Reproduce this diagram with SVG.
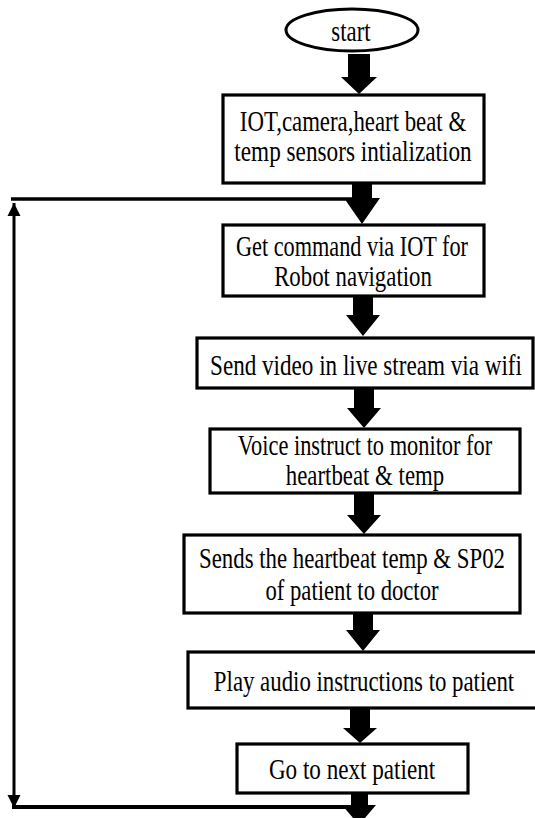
<svg xmlns="http://www.w3.org/2000/svg" width="535" height="818" viewBox="0 0 535 818">
  <defs>
    <style>
      .box { fill: #ffffff; stroke: #000000; stroke-width: 3.2; }
      .term { fill: #ffffff; stroke: #000000; stroke-width: 3; }
      .t { font-family: "Liberation Serif", "Times New Roman", serif; font-size: 29px; fill: #000000; text-anchor: middle; }
      .blk { fill: #000000; }
      .line { fill: none; stroke: #000000; }
    </style>
    <marker id="ah" viewBox="0 0 10 10" refX="10" refY="5" markerUnits="userSpaceOnUse" markerWidth="13" markerHeight="14" orient="auto-start-reverse">
      <path d="M0,0 L10,5 L0,10 z" fill="#000000"/>
    </marker>
  </defs>
  <rect width="535" height="818" fill="#ffffff"/>

  <g id="connectors">
    <polygon class="blk" points="348,54 370,54 370,77 377,77 359,94 341,77 348,77"/>
    <polygon class="blk" points="352,183 372,183 372,198 380,198 362,224 344,198 352,198"/>
    <polygon class="blk" points="353,297 373,297 373,315 380,315 363,336 346,315 353,315"/>
    <polygon class="blk" points="354,388 374,388 374,408 381,408 364,428 347,408 354,408"/>
    <polygon class="blk" points="354,493 374,493 374,515 381,515 364,534 347,515 354,515"/>
    <polygon class="blk" points="353,613 373,613 373,630 380,630 363,651 346,630 353,630"/>
    <polygon class="blk" points="350,708 370,708 370,728 377,728 360,743 343,728 350,728"/>
    <polygon class="blk" points="351,793 368,793 368,805 376,805 359,825 342,805 351,805"/>
    <line class="line" x1="11" y1="199" x2="356" y2="199" stroke-width="3.5"/>
    <line class="line" x1="12" y1="807" x2="352" y2="807" stroke-width="4"/>
    <line class="line" x1="14" y1="203" x2="14" y2="808" stroke-width="3" marker-start="url(#ah)" marker-end="url(#ah)"/>
  </g>

  <g id="start">
    <ellipse class="term" cx="352" cy="30" rx="66" ry="21"/>
    <text class="t" transform="translate(351,41) scale(0.787,1)">start</text>
  </g>

  <g id="init">
    <rect class="box" x="223" y="95" width="261" height="88"/>
    <text class="t" transform="translate(353,131) scale(0.787,1)">IOT,camera,heart beat &amp;</text>
    <text class="t" transform="translate(353,161) scale(0.801,1)">temp sensors intialization</text>
  </g>

  <g id="get-command">
    <rect class="box" x="223" y="225" width="261" height="71"/>
    <text class="t" transform="translate(352,256) scale(0.768,1)">Get command via IOT for</text>
    <text class="t" transform="translate(353,286) scale(0.787,1)">Robot navigation</text>
  </g>

  <g id="send-video">
    <rect class="box" x="197" y="338" width="336" height="50"/>
    <text class="t" transform="translate(366,375) scale(0.797,1)">Send video in live stream via wifi</text>
  </g>

  <g id="voice-instruct">
    <rect class="box" x="210" y="429" width="310" height="64"/>
    <text class="t" transform="translate(365,454.5) scale(0.772,1)">Voice instruct to monitor for</text>
    <text class="t" transform="translate(365,484.5) scale(0.787,1)">heartbeat &amp; temp</text>
  </g>

  <g id="send-vitals">
    <rect class="box" x="184" y="535" width="336" height="78"/>
    <text class="t" transform="translate(352,568) scale(0.787,1)">Sends the heartbeat temp &amp; SP02</text>
    <text class="t" transform="translate(352,600) scale(0.782,1)">of patient to doctor</text>
  </g>

  <g id="play-audio">
    <rect class="box" x="188" y="652" width="352" height="56"/>
    <text class="t" transform="translate(364,691) scale(0.787,1)">Play audio instructions to patient</text>
  </g>

  <g id="next-patient">
    <rect class="box" x="237" y="744" width="231" height="49"/>
    <text class="t" transform="translate(352,779) scale(0.797,1)">Go to next patient</text>
  </g>
</svg>
